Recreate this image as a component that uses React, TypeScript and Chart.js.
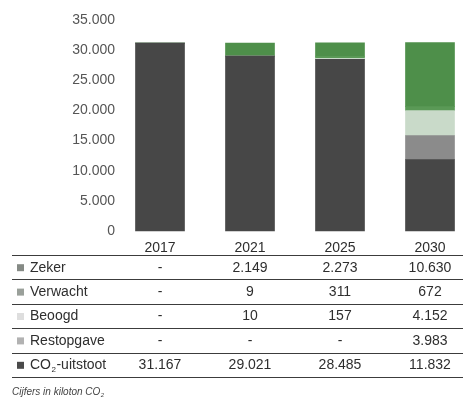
import React, { useEffect, useRef } from "react";
import { Chart, registerables } from "chart.js";

Chart.register(...registerables);

const years = ["2017", "2021", "2025", "2030"];
const zeker = [0, 2149, 2273, 10630];
const verwacht = [0, 9, 311, 672];
const beoogd = [0, 10, 157, 4152];
const restopgave = [0, 0, 0, 3983];
const co2 = [31167, 29021, 28485, 11832];
const rowLabels = ["Zeker", "Verwacht", "Beoogd", "Restopgave", "CO2-uitstoot"];
const caption = "Cijfers in kiloton CO2";

const FONT = '"Liberation Sans", Arial, Helvetica, sans-serif';

const fmt = (n: number) =>
  n === 0 ? "-" : String(n).replace(/\B(?=(\d{3})+(?!\d))/g, ".");

const colCO2 = "#474747";
const colRest = "#8b8b8b";
const colBeoogd = "#c9dac9";
const colVerwacht = "#5a9956";
const colZeker = "#4e8f4a";
const markerColors = ["#858a85", "#9aa09a", "#dedede", "#b2b2b2", "#4a4a4a"];

// draw text where "CO2" gets a subscript 2
function drawSubText(ctx: CanvasRenderingContext2D, text: string, x: number, y: number, size: number, font: string) {
  const idx = text.indexOf("CO2");
  if (idx < 0) {
    ctx.fillText(text, x, y);
    return;
  }
  const before = text.slice(0, idx + 2);
  const after = text.slice(idx + 3);
  ctx.fillText(before, x, y);
  let cx = x + ctx.measureText(before).width;
  const saved = ctx.font;
  ctx.font = font.replace(`${size}px`, `${Math.round(size * 0.6)}px`);
  ctx.fillText("2", cx + 0.5, y + size * 0.3);
  cx += ctx.measureText("2").width + 1;
  ctx.font = saved;
  ctx.fillText(after, cx, y);
}

const tablePlugin = {
  id: "dataTable",
  afterDraw(chart: any) {
    const ctx: CanvasRenderingContext2D = chart.ctx;
    const xs = chart.scales.x;
    const rows = [zeker, verwacht, beoogd, restopgave, co2];
    const top = 255;
    const rowH = 24.4;
    const left = 12;
    const right = 463;
    ctx.save();
    ctx.strokeStyle = "#3c3c3c";
    ctx.lineWidth = 1.2;
    for (let i = 0; i <= rows.length; i++) {
      const y = Math.round(top + rowH * i) + 0.5;
      ctx.beginPath();
      ctx.moveTo(left, y);
      ctx.lineTo(right, y);
      ctx.stroke();
    }
    const size = 14;
    const font = `${size}px ${FONT}`;
    ctx.font = font;
    ctx.textBaseline = "middle";
    rows.forEach((vals, i) => {
      const cy = top + rowH * (i + 0.5) + 0.5;
      ctx.fillStyle = markerColors[i];
      ctx.fillRect(17, cy - 3.5, 7, 7);
      ctx.fillStyle = "#2e2e2e";
      ctx.textAlign = "left";
      drawSubText(ctx, rowLabels[i], 30, cy, size, font);
      ctx.textAlign = "center";
      vals.forEach((v, j) => {
        ctx.fillText(fmt(v), xs.getPixelForValue(j), cy);
      });
    });
    const cfont = `italic 10px ${FONT}`;
    ctx.font = cfont;
    ctx.fillStyle = "#444";
    ctx.textAlign = "left";
    drawSubText(ctx, caption, 12, 392, 10, cfont);
    ctx.restore();
  },
};

export default function App() {
  const ref = useRef<HTMLCanvasElement | null>(null);
  useEffect(() => {
    if (!ref.current) return;
    const mk = (label: string, data: number[], color: string) => ({
      label,
      data,
      backgroundColor: color,
      borderWidth: 0,
      barThickness: 49,
      clip: false as const,
    });
    const chart = new Chart(ref.current, {
      type: "bar",
      data: {
        labels: years,
        datasets: [
          mk("CO2-uitstoot", co2, colCO2),
          mk("Restopgave", restopgave, colRest),
          mk("Beoogd", beoogd, colBeoogd),
          mk("Verwacht", verwacht, colVerwacht),
          mk("Zeker", zeker, colZeker),
        ],
      },
      options: {
        animation: false,
        responsive: false,
        layout: { padding: { top: 20, right: 35, left: 0, bottom: 0 } },
        plugins: { legend: { display: false }, tooltip: { enabled: false } },
        scales: {
          x: {
            stacked: true,
            offset: false,
            grid: { display: false, drawTicks: false },
            border: { display: false },
            ticks: {
              padding: 9,
              color: "#2e2e2e",
              font: { family: FONT, size: 14 },
              maxRotation: 0,
              autoSkip: false,
            },
            afterFit: (s: any) => {
              s.height = 169;
              s.paddingLeft = 0;
              s.paddingRight = 0;
            },
          },
          y: {
            stacked: true,
            min: 0,
            max: 35000,
            grid: { display: false, drawTicks: false },
            border: { display: false },
            ticks: {
              stepSize: 5000,
              padding: 45,
              color: "#555",
              font: { family: FONT, size: 14 },
              callback: (v: any) => (Number(v) === 0 ? "0" : fmt(Number(v))),
            },
            afterFit: (s: any) => {
              s.width = 160;
              s.paddingTop = 0;
              s.paddingBottom = 0;
            },
          },
        },
      },
      plugins: [tablePlugin],
    });
    return () => chart.destroy();
  }, []);
  return (
    <div style={{ position: "absolute", left: 0, top: 0, width: 465, height: 400, background: "#fff" }}>
      <canvas ref={ref} width={465} height={400} style={{ width: 465, height: 400, display: "block" }} />
    </div>
  );
}
